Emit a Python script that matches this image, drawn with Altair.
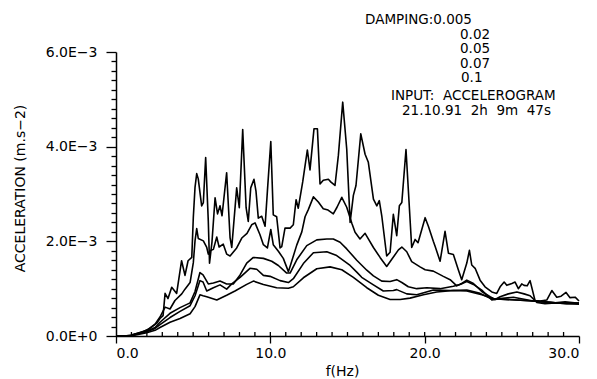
import altair as alt
import pandas as pd

# ---------------- data (acceleration in units of 1E-3 m.s-2) ----------------
damping = ["0.005", "0.02", "0.05", "0.07", "0.1"]

f_005 = [0, 0.58, 0.97, 1.75, 2.20, 2.64, 2.85, 3.05, 3.18, 3.37,
         3.61, 3.93, 4.25, 4.47, 4.67, 4.91, 5.01, 5.12, 5.23, 5.33,
         5.55, 5.66, 5.81, 5.98, 6.06, 6.22, 6.42, 6.58, 6.74, 6.87,
         7.17, 7.39, 7.50, 7.82, 7.99, 8.21, 8.43, 8.57, 8.73, 8.94,
         9.07, 9.22, 9.44, 9.66, 9.81, 10.03, 10.19, 10.41, 10.63, 10.74,
         10.95, 11.28, 11.49, 11.67, 11.81, 12.10, 12.40, 12.57, 12.83, 13.05,
         13.22, 13.43, 13.76, 13.93, 14.19, 14.41, 14.69, 14.95, 15.17, 15.38,
         15.55, 15.86, 16.14, 16.35, 16.68, 16.90, 17.06, 17.22, 17.54, 17.76,
         17.97, 18.19, 18.36, 18.52, 18.79, 19.16, 19.38, 19.57, 20.03, 20.24,
         20.56, 20.67, 21.00, 21.32, 21.54, 21.86, 22.18, 22.40, 22.73, 22.90,
         23.05, 23.27, 23.59, 23.91, 24.35, 24.67, 24.89, 25.15, 25.32, 25.65,
         25.86, 26.07, 26.29, 26.44, 26.64, 26.83, 27.15, 27.48, 27.91, 28.24,
         28.56, 28.84, 29.16, 29.42, 29.75, 30.0]
a_005 = [0, 0, 0.02, 0.09, 0.16, 0.27, 0.37, 0.43, 0.90, 0.79,
         1.03, 0.90, 1.59, 1.28, 1.59, 1.66, 2.51, 3.14, 3.43, 3.32,
         2.75, 2.82, 3.77, 2.43, 1.54, 1.99, 2.92, 2.58, 2.75, 2.54,
         3.45, 2.08, 1.87, 3.13, 2.71, 4.36, 2.71, 2.42, 3.13, 3.31,
         3.06, 2.49, 2.53, 2.32, 3.06, 4.11, 2.56, 2.52, 1.86, 1.89,
         2.28, 2.28, 2.35, 2.88, 2.70, 3.26, 3.93, 3.51, 4.38, 4.38,
         3.21, 3.29, 3.31, 3.25, 3.18, 3.82, 4.94, 3.95, 2.40, 2.97,
         3.18, 4.27, 3.84, 3.67, 2.89, 2.75, 2.86, 2.54, 1.69, 1.77,
         2.57, 2.12, 2.75, 2.82, 3.94, 1.87, 2.04, 1.97, 2.50, 2.32,
         2.00, 1.90, 1.58, 2.21, 1.75, 1.72, 1.40, 1.19, 1.54, 1.81,
         1.50, 1.43, 1.18, 1.04, 0.93, 0.90, 1.04, 1.14, 1.07, 1.11,
         1.14, 1.00, 1.10, 1.07, 1.06, 1.17, 0.75, 0.74, 0.76, 0.96,
         0.82, 0.84, 0.92, 0.81, 0.82, 0.74]

f_02 = [0, 0.97, 1.99, 2.53, 2.85, 3.18, 3.50, 3.82, 4.26, 4.47,
        4.80, 5.01, 5.12, 5.23, 5.33, 5.66, 5.88, 5.98, 6.09, 6.31,
        6.53, 6.68, 6.95, 7.17, 7.39, 7.82, 8.15, 8.49, 8.79, 9.01,
        9.33, 9.55, 9.81, 10.03, 10.19, 10.52, 10.84, 11.17, 11.34, 11.71,
        12.04, 12.25, 12.46, 12.79, 13.11, 13.43, 13.74, 14.08, 14.32, 14.63,
        14.95, 15.28, 15.49, 15.81, 16.14, 16.35, 16.68, 17.11, 17.54, 17.87,
        18.30, 18.52, 18.84, 19.16, 19.70, 20.03, 20.56, 21.21, 21.65, 22.08,
        22.40, 22.73, 23.16, 23.70, 24.24, 24.56, 24.89, 25.42, 25.97, 26.44,
        26.83, 27.27, 27.80, 28.45, 29.10, 30.0]
a_02 = [0, 0.01, 0.12, 0.25, 0.40, 0.61, 0.57, 0.75, 0.89, 0.99,
        1.13, 1.55, 2.01, 2.27, 2.06, 2.01, 1.87, 1.73, 1.80, 1.83,
        2.09, 1.88, 1.94, 1.73, 1.69, 1.86, 2.07, 2.17, 2.35, 2.39,
        2.14, 1.93, 1.86, 2.25, 1.93, 1.79, 1.64, 1.36, 1.53, 1.92,
        2.20, 2.52, 2.67, 2.94, 2.83, 2.69, 2.66, 2.58, 2.72, 2.93,
        2.72, 2.38, 2.19, 2.05, 2.17, 2.05, 1.87, 1.66, 1.47, 1.62,
        1.82, 1.88, 1.78, 1.57, 1.46, 1.40, 1.37, 1.26, 1.19, 1.06,
        1.11, 1.18, 1.11, 0.94, 0.83, 0.77, 0.83, 0.89, 0.93, 0.89,
        0.85, 0.71, 0.68, 0.70, 0.72, 0.69]

f_05 = [0, 0.97, 1.99, 2.53, 2.85, 3.50, 4.15, 4.80, 5.12, 5.44,
        5.64, 5.98, 6.31, 6.74, 7.17, 7.60, 8.04, 8.47, 8.90, 9.55,
        10.09, 10.52, 11.06, 11.28, 11.71, 12.36, 13.01, 13.66, 14.08, 14.52,
        14.95, 15.60, 16.25, 16.68, 17.22, 17.76, 18.19, 18.52, 18.94, 19.49,
        20.14, 21.0, 21.86, 22.29, 22.73, 23.16, 23.70, 24.35, 24.89, 25.75,
        27.04, 28.13, 29.21, 30.0]
a_05 = [0, 0.01, 0.10, 0.18, 0.29, 0.48, 0.60, 0.70, 0.94, 1.34,
        1.29, 1.10, 1.12, 1.16, 1.10, 1.10, 1.29, 1.54, 1.66, 1.64,
        1.58, 1.49, 1.33, 1.33, 1.61, 1.91, 2.03, 2.05, 2.05, 1.98,
        1.84, 1.60, 1.39, 1.27, 1.16, 1.15, 1.19, 1.13, 1.04, 1.00,
        1.02, 1.00, 1.05, 1.09, 1.15, 1.09, 0.97, 0.76, 0.79, 0.82,
        0.74, 0.71, 0.68, 0.70]

f_07 = [0, 0.97, 1.99, 2.53, 2.85, 3.50, 4.15, 4.80, 5.12, 5.44,
        5.64, 5.88, 6.31, 6.74, 7.17, 7.50, 8.04, 8.68, 9.12, 9.55,
        9.98, 10.63, 11.17, 11.49, 12.14, 12.79, 13.66, 14.30, 15.17, 15.60,
        15.92, 16.68, 17.32, 17.97, 18.19, 18.84, 19.49, 20.56, 21.65, 22.73,
        23.59, 24.35, 24.89, 27.04, 28.45, 30.0]
a_07 = [0, 0.01, 0.09, 0.16, 0.24, 0.39, 0.52, 0.64, 0.85, 1.17,
        1.14, 0.95, 1.02, 1.08, 0.99, 1.10, 1.24, 1.43, 1.41, 1.28,
        1.26, 1.17, 1.13, 1.21, 1.53, 1.76, 1.78, 1.70, 1.49, 1.35,
        1.24, 1.08, 0.95, 0.96, 0.98, 0.89, 0.87, 0.97, 0.96, 0.97,
        0.90, 0.78, 0.78, 0.74, 0.70, 0.67]

f_1 = [0, 0.97, 1.99, 2.53, 2.85, 3.50, 4.15, 4.80, 5.12, 5.44,
       5.64, 5.88, 6.53, 7.17, 7.71, 8.47, 8.90, 9.55, 10.41, 11.17,
       11.49, 12.14, 13.01, 13.87, 14.63, 15.38, 16.25, 17.0, 17.76, 18.41,
       19.05, 19.92, 20.78, 21.86, 22.73, 23.70, 24.45, 27.04, 28.45, 30.0]
a_1 = [0, 0.00, 0.07, 0.12, 0.18, 0.29, 0.37, 0.47, 0.62, 0.87,
       0.85, 0.83, 0.76, 0.86, 0.95, 1.09, 1.16, 1.09, 1.02, 1.01,
       1.04, 1.23, 1.42, 1.46, 1.40, 1.24, 1.02, 0.86, 0.77, 0.77,
       0.80, 0.87, 0.93, 0.96, 0.95, 0.87, 0.79, 0.74, 0.70, 0.68]

x_major = [0, 10, 20, 30]
x_minor = list(range(1, 30))
y_ticks = [round(i * 0.2, 1) for i in range(31)]

annotation = ["DAMPING:0.005", "0.02", "0.05", "0.07", "0.1",
              "INPUT:\u00a0\u00a0ACCELEROGRAM",
              "21.10.91\u00a0\u00a02h\u00a0\u00a09m\u00a0\u00a047s"]

# ---------------- build table ----------------
series = [(damping[0], f_005, a_005), (damping[1], f_02, a_02),
          (damping[2], f_05, a_05), (damping[3], f_07, a_07),
          (damping[4], f_1, a_1)]
rows = []
for d, fs, vs in series:
    for i, (f, v) in enumerate(zip(fs, vs)):
        rows.append({"damping": d, "f": f, "acc": v, "i": i})
df = pd.DataFrame(rows)

W, H = 463, 284
FONT = "DejaVu Sans"

xscale = alt.Scale(domain=[0, 30], nice=False, zero=False)
yscale = alt.Scale(domain=[0, 6], nice=False)

major_test = "abs(datum.value/2 - round(datum.value/2)) < 0.001"

lines = alt.Chart(df).mark_line(color="black", strokeWidth=1.6, strokeJoin="round").encode(
    x=alt.X("f:Q", scale=xscale,
            axis=alt.Axis(values=x_major, title="f(Hz)", labelExpr="format(datum.value, '.1f')",
                          tickSize=7, labelPadding=3, titleX=226, titleY=35,
                          titleBaseline="middle", titleAlign="center")),
    y=alt.Y("acc:Q", scale=yscale,
            axis=alt.Axis(values=y_ticks, title="ACCELERATION (m.s\u22122)",
                          tickSize={"condition": {"test": major_test, "value": 10}, "value": 5},
                          labelExpr="(" + major_test + ") ? (datum.value == 0 ? '0.0E+0' : format(datum.value, '.1f') + 'E\u22123') : ''",
                          labelPadding=9, titleX=-96, titleY=136,
                          titleBaseline="middle", titleAlign="center")),
    detail="damping:N",
    order="i:Q",
)

minor = alt.Chart(pd.DataFrame({"f": x_minor})).mark_rule(color="black", strokeWidth=1.3).encode(
    x=alt.X("f:Q", scale=xscale),
    y=alt.value(H),
    y2=alt.value(H - 4),
)

text_pos = [(249, -28), (344, -13.5), (344, 1), (344, 15.5), (345, 30), (275, 48), (286, 63)]
texts = []
for t, (px, py) in zip(annotation, text_pos):
    texts.append(
        alt.Chart(pd.DataFrame({"t": [t]})).mark_text(
            align="left", baseline="alphabetic", font=FONT, fontSize=13.5, color="black"
        ).encode(text="t:N", x=alt.value(px), y=alt.value(py))
    )

chart = alt.layer(lines, minor, *texts).properties(
    width=W, height=H,
    autosize=alt.AutoSizeParams(type="none"),
    padding={"left": 116, "top": 52, "right": 18, "bottom": 43},
    background="white",
).configure_view(strokeWidth=0).configure_axis(
    grid=False, domainColor="black", domainWidth=1.5, tickColor="black", tickWidth=1.3,
    labelFont=FONT, labelFontSize=14, labelColor="black",
    titleFont=FONT, titleFontSize=14, titleColor="black", titleFontWeight="normal",
)

chart.save("out.html", embed_options={"renderer": "svg", "actions": False})
